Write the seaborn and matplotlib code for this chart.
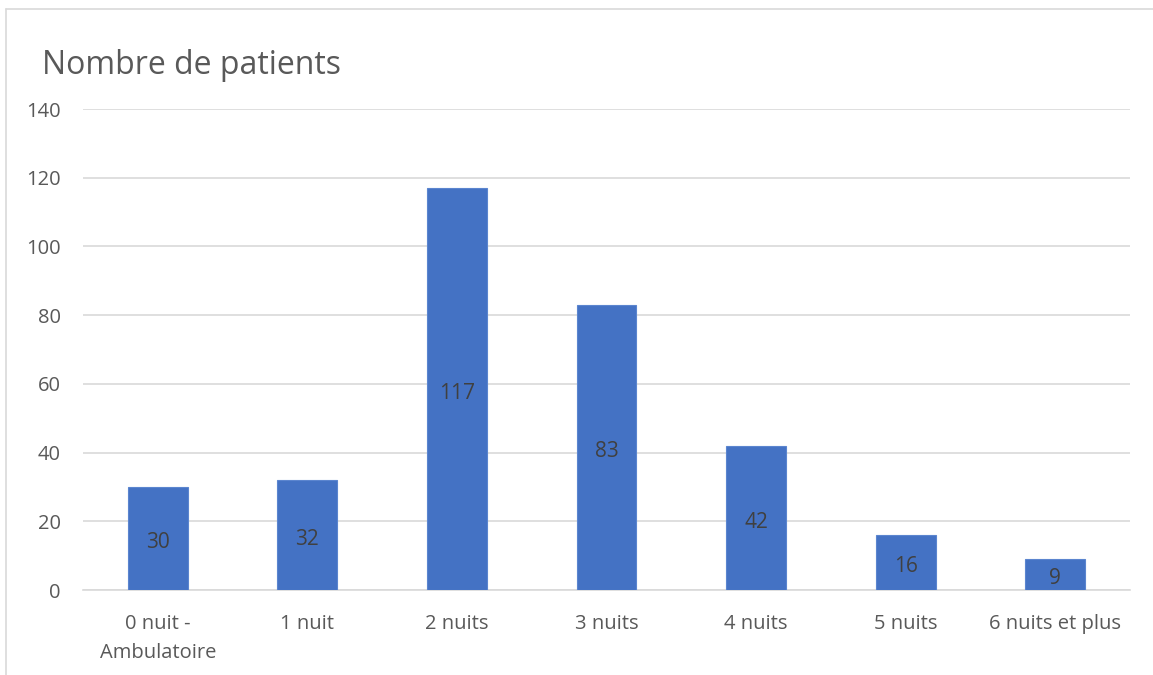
import matplotlib
matplotlib.use("Agg")
import matplotlib.pyplot as plt
from matplotlib.lines import Line2D
import seaborn as sns
import pandas as pd

categories = ["0 nuit -\nAmbulatoire", "1 nuit", "2 nuits", "3 nuits",
              "4 nuits", "5 nuits", "6 nuits et plus"]
patients = [30, 32, 117, 83, 42, 16, 9]
y_ticks = [0, 20, 40, 60, 80, 100, 120, 140]
title = "Nombre de patients"

sns.set_theme(style="white")
plt.rcParams["font.family"] = ["Open Sans", "DejaVu Sans"]

df = pd.DataFrame({"cat": categories, "n": patients})

fig = plt.figure(figsize=(11.53, 6.75), dpi=100)
ax = fig.add_axes([83 / 1153, 1 - 590 / 675, (1130 - 83) / 1153, (590 - 109) / 675])

sns.barplot(data=df, x="cat", y="n", color="#4472C4", width=0.4,
            saturation=1, ax=ax, edgecolor="#5B85CF", linewidth=0.8, zorder=3)

ax.set_ylim(0, 140)
ax.set_xlim(-0.5, len(categories) - 0.5)
ax.set_yticks(y_ticks)
ax.yaxis.grid(True, color="#D9D9D9", linewidth=1.2, zorder=0)
ax.set_axisbelow(True)
for s in ["top", "right", "left"]:
    ax.spines[s].set_visible(False)
ax.spines["bottom"].set_color("#D9D9D9")
ax.spines["bottom"].set_linewidth(1.2)
ax.set_xlabel("")
ax.set_ylabel("")
ax.tick_params(axis="both", length=0, labelsize=14.5, labelcolor="#595959")
ax.tick_params(axis="y", pad=16)
ax.tick_params(axis="x", pad=17.5)
for lbl in ax.get_xticklabels():
    lbl.set_linespacing(1.6)

for i, v in enumerate(patients):
    ax.annotate(str(v), xy=(i, v / 2), xytext=(0, -3), textcoords="offset points",
                ha="center", va="center", fontsize=15, color="#404040", zorder=4)

fig.text(42 / 1153, 1 - 65 / 675, title, fontsize=23, color="#595959",
         ha="left", va="center")

# light frame around the chart area
fig.add_artist(Line2D([6 / 1153, 6 / 1153], [0, 1 - 9 / 675],
                      transform=fig.transFigure, color="#D9D9D9", linewidth=1.2))
fig.add_artist(Line2D([6 / 1153, 1], [1 - 9 / 675, 1 - 9 / 675],
                      transform=fig.transFigure, color="#D9D9D9", linewidth=1.2))

fig.savefig("out.png", dpi=100)
